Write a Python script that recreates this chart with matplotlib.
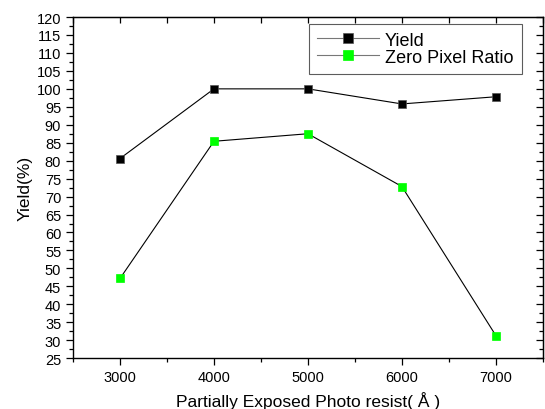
import matplotlib.pyplot as plt
from matplotlib.ticker import MultipleLocator

plt.rcParams["font.family"] = ["Liberation Sans", "DejaVu Sans"]

thickness = [3000, 4000, 5000, 6000, 7000]
yield_pct = [80.6, 100.0, 100.0, 95.8, 97.8]
zero_pixel_ratio = [47.2, 85.4, 87.5, 72.8, 31.3]

fig = plt.figure(figsize=(5.45, 4.10), dpi=100)
ax = fig.add_axes([0.134, 0.124, 0.862, 0.832])

ax.plot(thickness, yield_pct, color="black", lw=0.8, marker="s", ms=5.5,
        mfc="black", mec="#555555", mew=0.5, label="Yield")
ax.plot(thickness, zero_pixel_ratio, color="black", lw=0.8, marker="s", ms=5.5,
        mfc="#00ff00", mec="#00ff00", mew=0.5, label="Zero Pixel Ratio")

ax.set_xlim(2500, 7500)
ax.set_ylim(25, 120)
ax.xaxis.set_major_locator(MultipleLocator(1000))
ax.xaxis.set_minor_locator(MultipleLocator(500))
ax.yaxis.set_major_locator(MultipleLocator(5))
ax.yaxis.set_minor_locator(MultipleLocator(2.5))

ax.tick_params(which="both", direction="out", labelsize=10.5, width=0.9)
ax.tick_params(which="major", length=5)
ax.tick_params(which="minor", length=3)
for s in ax.spines.values():
    s.set_linewidth(1.0)

# inward ticks on top and right, no labels
top = ax.secondary_xaxis("top")
top.xaxis.set_major_locator(MultipleLocator(1000))
top.xaxis.set_minor_locator(MultipleLocator(500))
top.tick_params(which="both", direction="in", length=4, labeltop=False, width=0.9)
right = ax.secondary_yaxis("right")
right.yaxis.set_major_locator(MultipleLocator(5))
right.yaxis.set_minor_locator(MultipleLocator(2.5))
right.tick_params(which="major", direction="in", length=5, labelright=False, width=0.9)
right.tick_params(which="minor", direction="in", length=3, width=0.9)

ax.set_xlabel("Partially Exposed Photo resist( Å )", fontsize=12.5, labelpad=5)
ax.set_ylabel("Yield(%)", fontsize=12.5, labelpad=3)

leg = ax.legend(loc="upper right", bbox_to_anchor=(0.955, 0.981), borderaxespad=0,
                fontsize=13, frameon=True, fancybox=False, edgecolor="#333333",
                handlelength=3.4, borderpad=0.45, labelspacing=0.0,
                handletextpad=0.35, markerscale=1.3)
leg.get_frame().set_linewidth(0.8)
for line in leg.get_lines():
    line.set_color("#777777")

fig.savefig("out.png", dpi=100)
